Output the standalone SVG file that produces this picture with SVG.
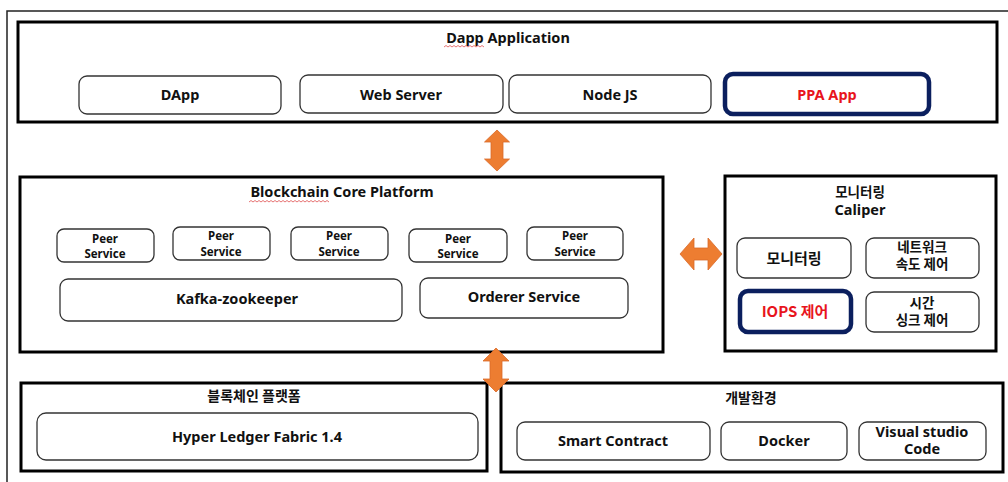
<svg xmlns="http://www.w3.org/2000/svg" width="1008" height="482" viewBox="0 0 1008 482">
<style>
text{font-family:"Noto Sans","Noto Sans CJK KR",sans-serif;font-weight:700;fill:#111;text-anchor:middle}
.t{font-size:14.5px}
.s{font-size:11.5px}
.k{font-family:"Noto Sans CJK KR","Noto Sans",sans-serif;font-size:13.5px}
.red{fill:#e8141c}
.frame{fill:none;stroke:#222;stroke-width:1.5}
.cont{fill:#fff;stroke:#000;stroke-width:3}
.box{fill:#fff;stroke:#333;stroke-width:1.3}
.hl{fill:#fff;stroke:#0b1f5e;stroke-width:4.5}
.arr{fill:#ed7d31;stroke:#d9692a;stroke-width:0.8}
.sq{fill:none;stroke:#e05050;stroke-width:0.8}
</style>
<rect width="1008" height="482" fill="#fff"/>
<path class="frame" d="M7,482 V11 H1008"/>

<g id="dapp-application">
<rect class="cont" x="18" y="22" width="979" height="100"/>
<text class="t" x="508" y="43">Dapp Application</text>
<path class="sq" d="M444,47 l2,-1.5 l2,1.5 l2,-1.5 l2,1.5 l2,-1.5 l2,1.5 l2,-1.5 l2,1.5 l2,-1.5 l2,1.5 l2,-1.5 l2,1.5 l2,-1.5 l2,1.5 l2,-1.5 l2,1.5 l2,-1.5 l2,1.5 l2,-1.5 l2,1.5"/>
</g>
<g id="dapp"><rect class="box" x="79" y="76" width="202" height="38" rx="8"/><text class="t" x="180" y="100">DApp</text></g>
<g id="web-server"><rect class="box" x="300" y="75" width="203" height="38" rx="8"/><text class="t" x="401" y="100">Web Server</text></g>
<g id="node-js"><rect class="box" x="509" y="75" width="202" height="38" rx="8"/><text class="t" x="610" y="100">Node JS</text></g>
<g id="ppa-app"><rect class="hl" x="725" y="74" width="204" height="40" rx="8"/><text class="t red" x="827" y="100">PPA App</text></g>

<g id="blockchain-core-platform">
<rect class="cont" x="20" y="177" width="643" height="175"/>
<text class="t" x="342" y="197">Blockchain Core Platform</text>
<path class="sq" d="M249,202 l2,-1.5 l2,1.5 l2,-1.5 l2,1.5 l2,-1.5 l2,1.5 l2,-1.5 l2,1.5 l2,-1.5 l2,1.5 l2,-1.5 l2,1.5 l2,-1.5 l2,1.5 l2,-1.5 l2,1.5 l2,-1.5 l2,1.5 l2,-1.5 l2,1.5 l2,-1.5 l2,1.5 l2,-1.5 l2,1.5 l2,-1.5 l2,1.5 l2,-1.5 l2,1.5 l2,-1.5 l2,1.5 l2,-1.5 l2,1.5 l2,-1.5 l2,1.5 l2,-1.5 l2,1.5 l2,-1.5 l2,1.5 l2,-1.5 l2,1.5"/>
</g>
<g id="peer-1"><rect class="box" x="57" y="229" width="97" height="33" rx="7"/><text class="s" x="105" y="243">Peer</text><text class="s" x="105" y="258">Service</text></g>
<g id="peer-2"><rect class="box" x="173" y="227" width="97" height="33" rx="7"/><text class="s" x="221" y="240">Peer</text><text class="s" x="221" y="256">Service</text></g>
<g id="peer-3"><rect class="box" x="291" y="227" width="97" height="33" rx="7"/><text class="s" x="339" y="240">Peer</text><text class="s" x="339" y="256">Service</text></g>
<g id="peer-4"><rect class="box" x="409" y="229" width="98" height="33" rx="7"/><text class="s" x="458" y="243">Peer</text><text class="s" x="458" y="258">Service</text></g>
<g id="peer-5"><rect class="box" x="527" y="227" width="96" height="33" rx="7"/><text class="s" x="575" y="240">Peer</text><text class="s" x="575" y="256">Service</text></g>
<g id="kafka"><rect class="box" x="60" y="279" width="342" height="42" rx="8"/><text class="t" x="237" y="304">Kafka-zookeeper</text></g>
<g id="orderer"><rect class="box" x="420" y="278" width="208" height="40" rx="8"/><text class="t" x="524" y="302">Orderer Service</text></g>

<g id="monitoring-caliper">
<rect class="cont" x="725" y="176" width="271" height="175"/>
<text class="k" x="860" y="197">모니터링</text>
<text class="t" x="860" y="215">Caliper</text>
</g>
<g id="monitoring"><rect class="box" x="737" y="238" width="114" height="40" rx="8"/><text class="k" x="794" y="264" style="font-size:15px">모니터링</text></g>
<g id="network-speed"><rect class="box" x="866" y="238" width="113" height="40" rx="8"/><text class="k" x="922" y="252">네트워크</text><text class="k" x="922" y="269">속도 제어</text></g>
<g id="iops"><rect class="hl" x="740" y="291" width="111" height="41" rx="8"/><text class="k red" x="795" y="317" style="font-size:15px">IOPS 제어</text></g>
<g id="time-sync"><rect class="box" x="866" y="292" width="113" height="40" rx="8"/><text class="k" x="922" y="308">시간</text><text class="k" x="922" y="325">싱크 제어</text></g>

<g id="blockchain-platform">
<rect class="cont" x="21" y="383" width="466" height="88"/>
<text class="k" x="254" y="401" style="font-size:14px">블록체인 플랫폼</text>
</g>
<g id="hyperledger"><rect class="box" x="37" y="413" width="441" height="47" rx="9"/><text class="t" x="257" y="442">Hyper Ledger Fabric 1.4</text></g>

<g id="dev-env">
<rect class="cont" x="501" y="383" width="502" height="89"/>
<text class="k" x="751" y="403" style="font-size:14px">개발환경</text>
</g>
<g id="smart-contract"><rect class="box" x="517" y="422" width="193" height="38" rx="8"/><text class="t" x="613" y="446">Smart Contract</text></g>
<g id="docker"><rect class="box" x="721" y="422" width="126" height="38" rx="8"/><text class="t" x="784" y="446">Docker</text></g>
<g id="vscode"><rect class="box" x="859" y="422" width="127" height="38" rx="8"/><text class="t" x="922" y="437">Visual studio</text><text class="t" x="922" y="454">Code</text></g>

<g id="connectors">
<polygon class="arr" points="497,130 509.5,142 503,142 503,159 509.5,159 497,171 484.5,159 491,159 491,142 484.5,142"/>
<polygon class="arr" points="680,254 694,238 694,248 708,248 708,238 722,254 708,270 708,260 694,260 694,270"/>
<polygon class="arr" points="496,348 509,361 502,361 502,379 509,379 496,392 483,379 490,379 490,361 483,361"/>
</g>
</svg>
